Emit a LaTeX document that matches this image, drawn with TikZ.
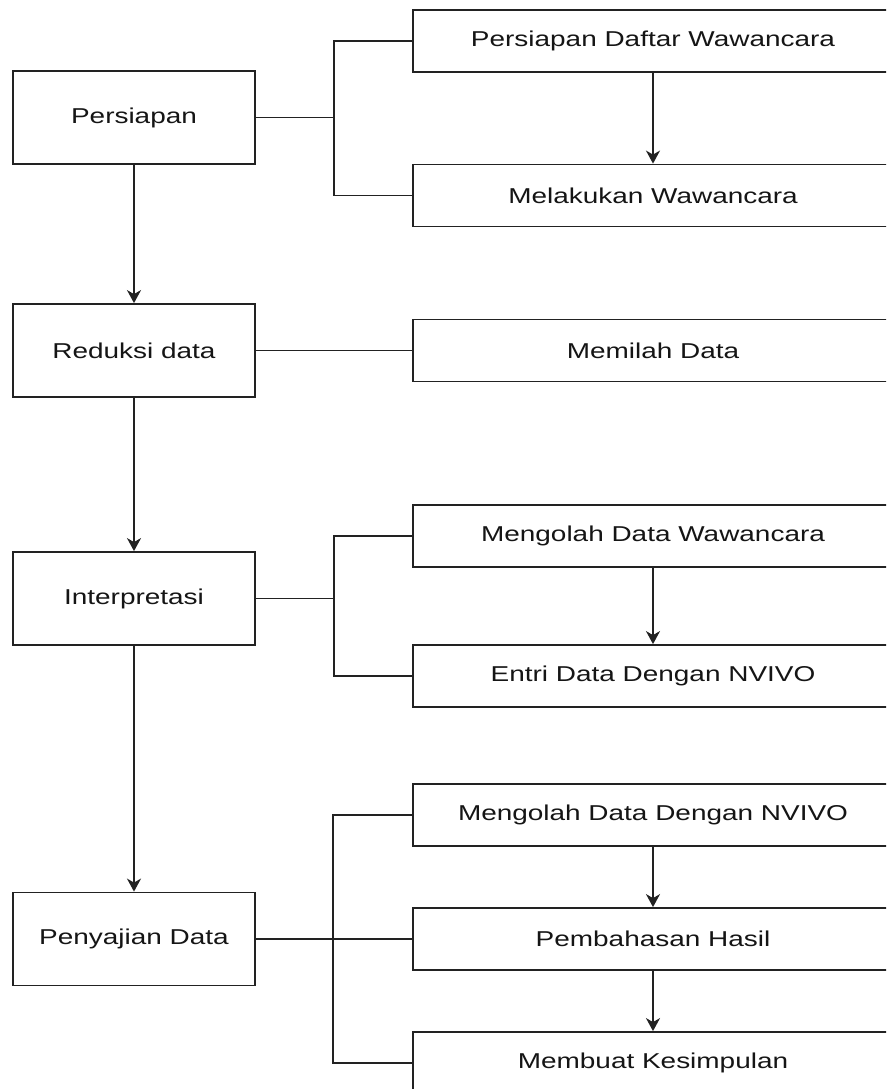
\documentclass[tikz,border=0pt]{standalone}
\usepackage{fontspec}
\setmainfont{Liberation Sans}[FakeStretch=1.3]
\usepackage{tikz}
\usetikzlibrary{positioning}
\usetikzlibrary{arrows.meta}

\begin{document}
\begin{tikzpicture}[x=1pt,y=-1pt,
  stagebox/.style={draw=linec, line width=1.8pt, minimum width=242pt, minimum height=93pt, inner sep=0pt, anchor=center, text=textc},
  taskbox/.style={draw=linec, line width=1.8pt, minimum width=480pt, minimum height=62pt, inner sep=0pt, anchor=center, text=textc},
  link/.style={draw=linec, line width=1.8pt},
  flow/.style={link, -{Stealth[length=13pt,width=14pt,inset=4pt]}},
  font=\fontsize{21.5pt}{25pt}\selectfont]

% line and text colours
\definecolor{linec}{HTML}{222222}
\definecolor{textc}{HTML}{151515}

\clip (0,0) rectangle (886,1089);
\fill[white] (0,0) rectangle (886,1089);

%% left column: stages
\node [stagebox] at (134,117.5) (persiapan) {Persiapan};
\node [stagebox] at (134,350.5) (reduksi) {Reduksi data};
\node [stagebox] at (134,598.5) (interpretasi) {Interpretasi};
\node [stagebox] at (134,939) (penyajian) {Penyajian Data};

%% right column: tasks
\node [taskbox] at (653,41) (daftar) {Persiapan Daftar Wawancara};
\node [taskbox] at (653,195.5) (wawancara) {Melakukan Wawancara};
\node [taskbox] at (653,350.5) (memilah) {Memilah Data};
\node [taskbox] at (653,536) (olahwawancara) {Mengolah Data Wawancara};
\node [taskbox] at (653,676) (entri) {Entri Data Dengan NVIVO};
\node [taskbox] at (653,815) (olahnvivo) {Mengolah Data Dengan NVIVO};
\node [taskbox] at (653,939) (pembahasan) {Pembahasan Hasil};
\node [taskbox] at (653,1063) (kesimpulan) {Membuat Kesimpulan};

%% main flow
\draw[flow] (persiapan) -- (reduksi);
\draw[flow] (reduksi) -- (interpretasi);
\draw[flow] (interpretasi) -- (penyajian);

%% flow inside the task groups
\draw[flow] (daftar) -- (wawancara);
\draw[flow] (olahwawancara) -- (entri);
\draw[flow] (olahnvivo) -- (pembahasan);
\draw[flow] (pembahasan) -- (kesimpulan);

%% brackets
\draw[link] (persiapan.east) -- ++(78,0) coordinate (j1);
\draw[link] (daftar.west) -| (j1);
\draw[link] (wawancara.west) -| (j1);
\draw[link] (reduksi.east) -- (memilah.west);
\draw[link] (interpretasi.east) -- ++(78,0) coordinate (j3);
\draw[link] (olahwawancara.west) -| (j3);
\draw[link] (entri.west) -| (j3);
\draw[link] (penyajian.east) -- (pembahasan.west);
\coordinate (j4) at (333,939);
\draw[link] (olahnvivo.west) -| (j4);
\draw[link] (kesimpulan.west) -| (j4);
\end{tikzpicture}
\end{document}
